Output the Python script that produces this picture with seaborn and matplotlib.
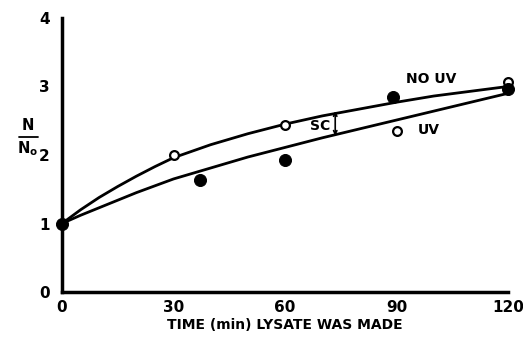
import matplotlib
matplotlib.use("Agg")
import matplotlib.pyplot as plt
import seaborn as sns
import pandas as pd
from matplotlib.lines import Line2D

# Data
open_t = [0, 30, 60, 90, 120]
open_y = [1.0, 2.0, 2.44, 2.35, 3.07]
filled_t = [0, 37, 60, 89, 120]
filled_y = [1.0, 1.64, 1.93, 2.85, 2.96]

curve_t = [0, 5, 10, 15, 20, 25, 30, 40, 50, 60, 70, 80, 90, 100, 110, 120]
curve_noUV = [1.0, 1.2, 1.38, 1.54, 1.69, 1.83, 1.96, 2.15, 2.31, 2.45, 2.57, 2.67, 2.77, 2.86, 2.93, 3.0]
curve_UV = [1.0, 1.12, 1.23, 1.34, 1.45, 1.55, 1.65, 1.81, 1.97, 2.11, 2.25, 2.38, 2.51, 2.64, 2.77, 2.9]

x_ticks = [0, 30, 60, 90, 120]
y_ticks = [0, 1, 2, 3, 4]
x_label = "TIME (min) LYSATE WAS MADE"

sns.set_theme(style="white")
plt.rcParams['font.family'] = ['DejaVu Sans']
plt.rcParams['mathtext.fontset'] = 'dejavusans'
for k in ['text.color', 'axes.labelcolor', 'xtick.color', 'ytick.color', 'axes.edgecolor']:
    plt.rcParams[k] = 'black'

fig = plt.figure(figsize=(5.23, 3.38), dpi=100)
ax = fig.add_axes([0.1185, 0.136, 0.853, 0.811])

df_curve = pd.DataFrame({"t": curve_t + curve_t,
                         "y": curve_noUV + curve_UV,
                         "s": ["NO UV"] * len(curve_t) + ["UV"] * len(curve_t)})
sns.lineplot(data=df_curve, x="t", y="y", units="s", estimator=None,
             color="black", lw=2.0, ax=ax, legend=False)

sns.scatterplot(x=open_t, y=open_y, marker="o", s=40, facecolor="white",
                edgecolor="black", linewidth=1.6, ax=ax, zorder=4)
sns.scatterplot(x=filled_t, y=filled_y, marker="o", s=75, color="black",
                edgecolor="black", ax=ax, zorder=5)

ax.set_xlim(0, 120)
ax.set_ylim(0, 4)
ax.set_xticks(x_ticks)
ax.set_yticks(y_ticks)
ax.set_xticklabels([str(v) for v in x_ticks], fontsize=11, fontweight="bold")
ax.set_yticklabels([str(v) for v in y_ticks], fontsize=11, fontweight="bold")
for s in ["top", "right"]:
    ax.spines[s].set_visible(False)
for s in ["left", "bottom"]:
    ax.spines[s].set_linewidth(2.5)
    ax.spines[s].set_color("black")
ax.tick_params(axis="x", direction="in", length=6, width=1.8, pad=6, colors="black")
ax.tick_params(axis="y", direction="out", length=6, width=1.8, pad=3, colors="black")
ax.set_xlabel(x_label, fontsize=10, fontweight="bold", labelpad=2, color="black")
ax.set_ylabel("")

# N / N0 label as a stacked fraction
fig.text(28 / 523, 1 - 126 / 338, "N", fontsize=10.5, fontweight="bold", ha="center", va="center")
fig.add_artist(Line2D([19 / 523, 38 / 523], [1 - 137 / 338, 1 - 137 / 338],
                      color="black", lw=1.3, transform=fig.transFigure))
fig.text(28 / 523, 1 - 149 / 338, r"N$_{\mathbf{o}}$", fontsize=10.5, fontweight="bold",
         ha="center", va="center")

ax.text(99.3, 3.11, "NO UV", fontsize=10, fontweight="bold", ha="center", va="center")
ax.text(98.7, 2.37, "UV", fontsize=10, fontweight="bold", ha="center", va="center")
ax.text(69.5, 2.42, "SC", fontsize=10, fontweight="bold", ha="center", va="center")
ax.annotate("", xy=(73.5, 2.64), xytext=(73.5, 2.28),
            arrowprops=dict(arrowstyle="<->", color="black", lw=1.2,
                            mutation_scale=6, shrinkA=0, shrinkB=0))
for c in ax.collections + ax.lines:
    c.set_clip_on(False)

fig.savefig("out.png", dpi=100)
